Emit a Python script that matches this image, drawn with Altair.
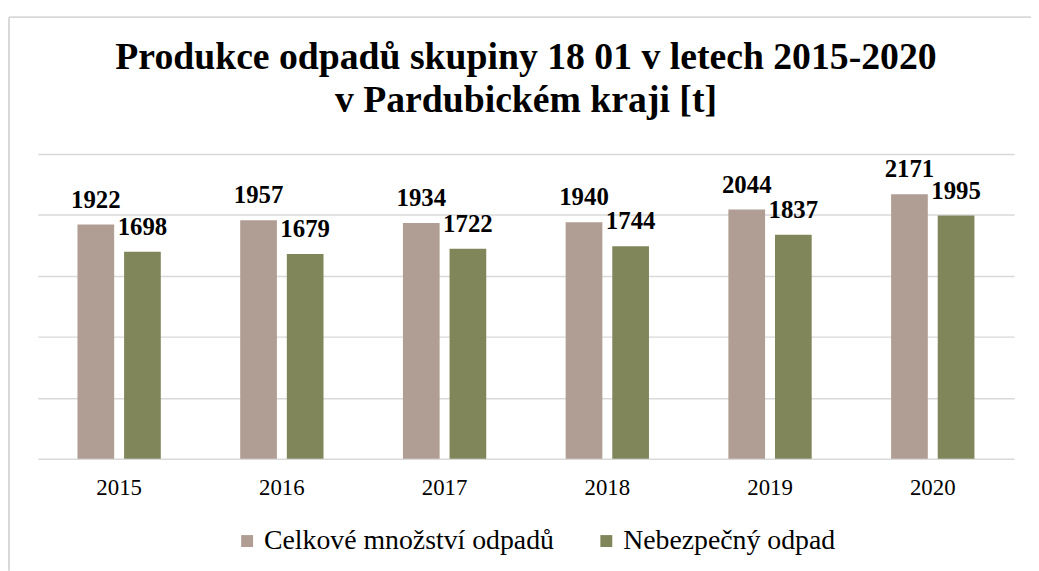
import altair as alt
import pandas as pd

years = ["2015", "2016", "2017", "2018", "2019", "2020"]
series_names = ["Celkové množství odpadů", "Nebezpečný odpad"]
celkove = [1922, 1957, 1934, 1940, 2044, 2171]
nebezpecny = [1698, 1679, 1722, 1744, 1837, 1995]
colors = ["#b09d94", "#80865a"]
title_lines = ["Produkce odpadů skupiny 18 01 v letech 2015-2020", "v Pardubickém kraji [t]"]

rows = []
for i, y in enumerate(years):
    rows.append({"rok": y, "serie": series_names[0], "hodnota": celkove[i]})
    rows.append({"rok": y, "serie": series_names[1], "hodnota": nebezpecny[i]})
df = pd.DataFrame(rows)

SERIF = "Liberation Serif, Times New Roman, serif"

x_enc = alt.X("rok:N", sort=years, title=None,
              scale=alt.Scale(paddingInner=0.488, paddingOuter=0.244),
              axis=alt.Axis(labelFont=SERIF, labelFontSize=23, labelColor="#000000",
                            labelPadding=18, labelAngle=0, ticks=False, domain=False,
                            grid=False))
xoff = alt.XOffset("serie:N", sort=series_names,
                   scale=alt.Scale(paddingInner=0.213, paddingOuter=0))
y_enc = alt.Y("hodnota:Q", title=None,
              scale=alt.Scale(domain=[0, 2500], nice=False),
              axis=alt.Axis(values=[0, 500, 1000, 1500, 2000, 2500], labels=False,
                            ticks=False, domain=False, grid=True,
                            gridColor="#d9d9d9", gridWidth=1.5))

bars = alt.Chart(df).mark_bar().encode(
    x=x_enc, xOffset=xoff, y=y_enc,
    color=alt.Color("serie:N", sort=series_names,
                    scale=alt.Scale(domain=series_names, range=colors),
                    legend=alt.Legend(title=None, orient="none", direction="horizontal",
                                      legendX=197, legendY=376,
                                      symbolType="square", symbolSize=144,
                                      symbolStrokeWidth=0,
                                      labelFont=SERIF, labelFontSize=28,
                                      labelColor="#000000", labelLimit=400,
                                      columnPadding=38, symbolOffset=0,
                                      labelOffset=3)),
)

labels = alt.Chart(df).mark_text(
    font=SERIF, fontSize=25, fontWeight="bold", color="#000000",
    baseline="alphabetic", dy=-17
).encode(x=alt.X("rok:N", sort=years), xOffset=alt.XOffset("serie:N", sort=series_names),
         y="hodnota:Q", text="hodnota:Q")

border = alt.Chart(pd.DataFrame({"a": [0]})).mark_rule(
    color="#d9d9d9", strokeWidth=2).encode(
    x=alt.value(-29), x2=alt.value(1010), y=alt.value(-138))
border_left = alt.Chart(pd.DataFrame({"a": [0]})).mark_rule(
    color="#d9d9d9", strokeWidth=2).encode(
    x=alt.value(-29), y=alt.value(-138), y2=alt.value(420))

chart = alt.layer(bars, labels, border, border_left).properties(
    width=984, height=307,
    autosize=alt.AutoSizeParams(type="none"),
    padding={"left": 30, "top": 145, "right": 17, "bottom": 111},
    title=alt.TitleParams(title_lines, font=SERIF, fontSize=38, fontWeight="bold",
                          color="#000000", anchor="middle", lineHeight=44, offset=0,
                          dy=105),
).configure_view(stroke=None)

chart.save("out.html", embed_options={"renderer": "svg", "actions": False})
